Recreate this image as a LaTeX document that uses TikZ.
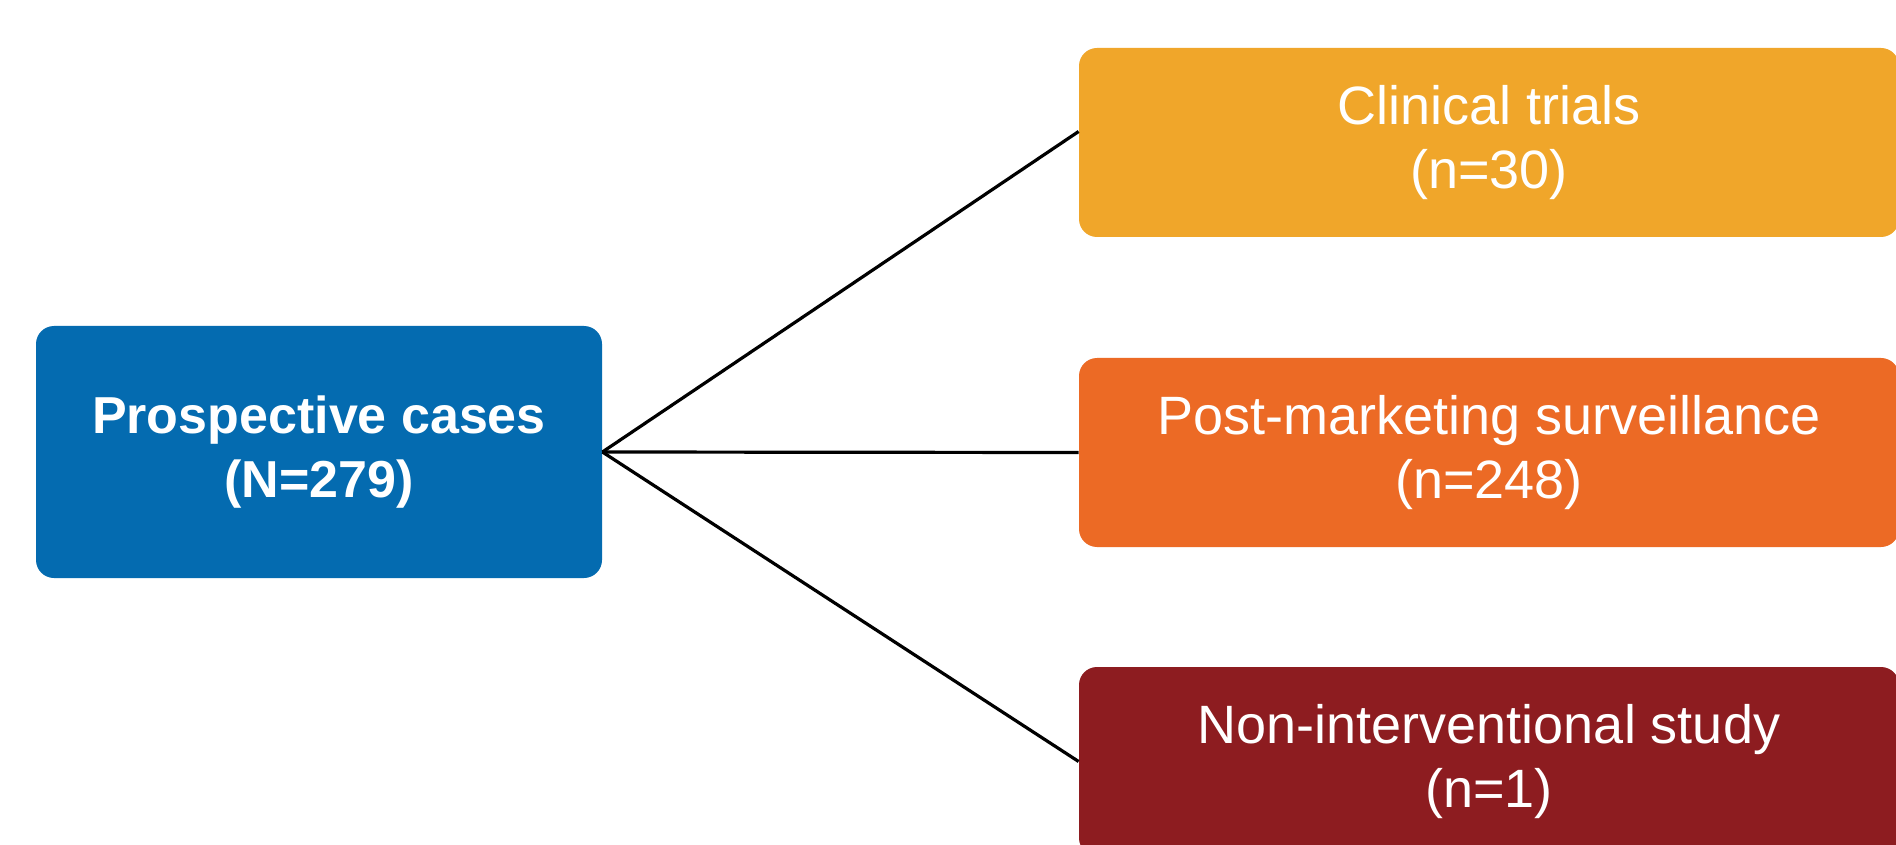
\documentclass[tikz,border=0pt]{standalone}
\usepackage{fontspec}
\setmainfont{Liberation Sans}
\definecolor{cblue}{HTML}{046BB0}
\definecolor{cyel}{HTML}{F0A62A}
\definecolor{corange}{HTML}{EC6A25}
\definecolor{cred}{HTML}{8D1C20}
\tikzset{
  box/.style={rounded corners=9pt, inner sep=0pt, align=center, text=white,
    font=\fontsize{27}{32}\selectfont},
  leftbox/.style={box, fill=cblue, minimum width=283pt, minimum height=126pt,
    font=\fontsize{26}{32}\selectfont\bfseries},
  rightbox/.style={box, minimum width=410pt, minimum height=94.5pt},
  link/.style={draw=black, line width=1.6pt}
}
\begin{document}
\begin{tikzpicture}[x=0.5pt, y=-0.5pt]
\clip (0,0) rectangle (1896,845);
\fill[white] (0,0) rectangle (1896,845);
\node[leftbox] (src) at (319,452) {Prospective cases\\(N=279)};
\node[rightbox, fill=cyel] (ct) at (1489,142.5) {Clinical trials\\(n=30)};
\node[rightbox, fill=corange] (pms) at (1489,452.5) {Post-marketing surveillance\\(n=248)};
\node[rightbox, fill=cred] (nis) at (1489,761.5) {Non-interventional study\\(n=1)};
\draw[link] (src.east) -- ([yshift=5.5pt]ct.west);
\draw[link] (src.east) -- (pms.west);
\draw[link] (src.east) -- (nis.west);
\end{tikzpicture}
\end{document}
